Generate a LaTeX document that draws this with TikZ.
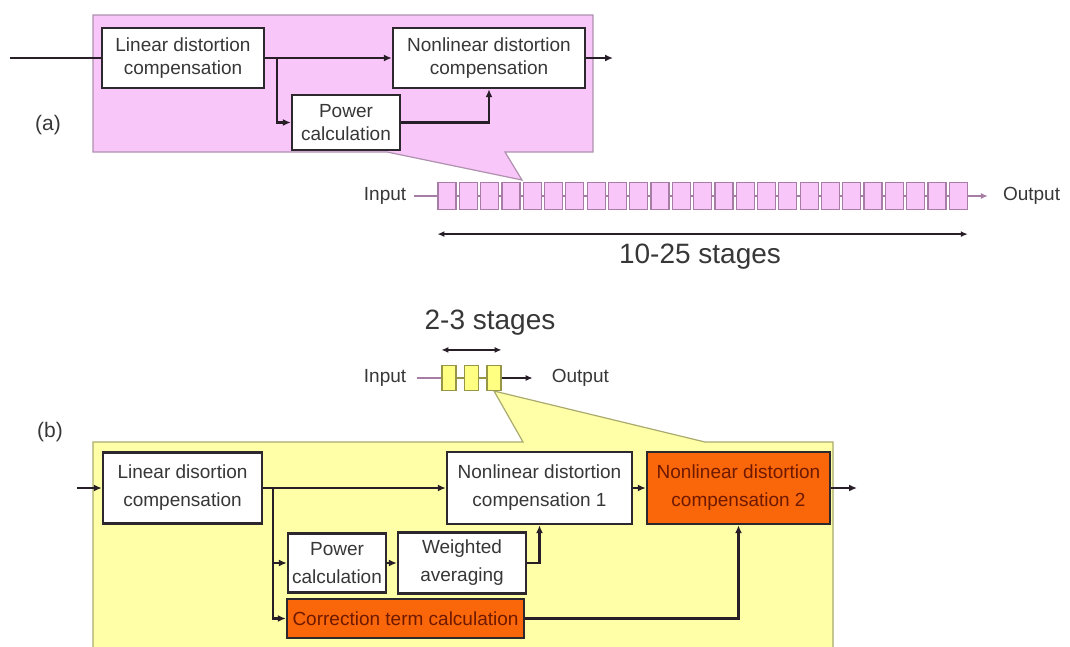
\documentclass[tikz,border=0pt]{standalone}
\usepackage{fontspec}
\setmainfont{Liberation Sans}
\usetikzlibrary{arrows.meta,positioning,calc}
\definecolor{panelpink}{RGB}{248,198,248}
\definecolor{pinkline}{RGB}{175,145,175}
\definecolor{stageline}{RGB}{165,125,165}
\definecolor{panelyellow}{RGB}{255,255,168}
\definecolor{yellowline}{RGB}{170,170,110}
\definecolor{minifill}{RGB}{255,255,130}
\definecolor{miniline}{RGB}{150,150,70}
\definecolor{hotorange}{RGB}{250,102,10}
\definecolor{hottext}{RGB}{110,25,0}
\definecolor{boxline}{RGB}{45,40,45}
\definecolor{wirecol}{RGB}{40,30,40}
\definecolor{boxtext}{RGB}{55,55,55}

\begin{document}
\begin{tikzpicture}[x=1pt,y=-1pt,
      wire/.style={line width=2.2pt, draw=wirecol},
      arr/.style={wire, -{Latex[length=8pt,width=7pt]}},
      block/.style={draw=boxline, line width=2.4pt, fill=white, align=center,
                    inner sep=0pt, text=boxtext, font=\fontsize{19}{22.5}\selectfont},
      blockb/.style={block, font=\fontsize{19}{28}\selectfont},
      hotblock/.style={blockb, fill=hotorange, text=hottext},
      stage/.style={draw=stageline, line width=1.2pt, fill=panelpink,
                    minimum width=18pt, minimum height=27pt, inner sep=0pt},
      ministage/.style={draw=miniline, line width=1.2pt, fill=minifill,
                    minimum width=14pt, minimum height=25pt, inner sep=0pt},
      stagewire/.style={line width=1.2pt, draw=stageline},
      miniwire/.style={line width=1.2pt, draw=miniline},
      lbl/.style={inner sep=0pt, text=boxtext, font=\fontsize{19}{22}\selectfont},
      biglbl/.style={inner sep=0pt, text=boxtext, font=\fontsize{28}{30}\selectfont},
      tag/.style={inner sep=0pt, text=boxtext, font=\fontsize{21}{24}\selectfont},
      dim/.style={line width=1.5pt, draw=wirecol,
                  {Latex[length=7pt,width=6pt]}-{Latex[length=7pt,width=6pt]}}
    ]
    \useasboundingbox (0,0) rectangle (1070,646);

    % (a) callout panel
    \filldraw[fill=panelpink, draw=pinkline, line width=1.2pt]
      (93,15) -- (593,15) -- (593,152) -- (505,152) -- (522,180)
      -- (387,152) -- (93,152) -- cycle;
    \node[tag] (tagA) at (48,125) {(a)};
    \node[block, minimum width=162pt, minimum height=60pt] (linA) at (183,58)
      {Linear distortion\\compensation};
    \node[block, minimum width=192pt, minimum height=60pt] (nlA) at (489,58)
      {Nonlinear distortion\\compensation};
    \node[block, minimum width=108pt, minimum height=55pt] (powA) at (346,122.5)
      {Power\\calculation};
    \coordinate (srcA) at (10,58);
    \coordinate (brA) at (277,58);
    \coordinate (sinkA) at (613,58);
    \draw[wire] (srcA) -- (linA);
    \draw[arr] (linA) -- (nlA);
    \draw[arr] (brA) |- (powA);
    \draw[arr] (powA) -| (nlA);
    \draw[arr] (nlA) -- (sinkA);

    % chain of 25 stages
    \foreach \i in {1,...,25}
      \node[stage] (s\i) at ({447+(\i-1)*21.3},196) {};
    \foreach \i [count=\j from 2] in {1,...,24}
      \draw[stagewire] (s\i) -- (s\j);
    \node[lbl, left=31pt of s1] (inA) {Input};
    \node[lbl, right=35pt of s25] (outA) {Output};
    \draw[stagewire] ([xshift=8pt]inA.east) -- (s1);
    \draw[stagewire, -{Latex[length=7pt,width=6pt]}] (s25) -- ([xshift=-15pt]outA.west);
    \draw[dim] ([yshift=-24pt]s1.south west) -- ([yshift=-24pt]s25.south east);
    \node[biglbl] (nA) at (700,257) {10-25 stages};

    % (b) callout panel
    \filldraw[fill=panelyellow, draw=yellowline, line width=1.2pt]
      (93,652) -- (93,442) -- (523,442) -- (494,391) -- (705,442)
      -- (833,442) -- (833,652);
    \node[tag] (tagB) at (50,432) {(b)};

    % chain of 3 stages
    \foreach \i in {1,2,3}
      \node[ministage] (m\i) at ({449+(\i-1)*22.5},378) {};
    \foreach \i [count=\j from 2] in {1,2}
      \draw[miniwire] (m\i) -- (m\j);
    \node[lbl, left=35pt of m1] (inB) {Input};
    \node[lbl, right=50pt of m3] (outB) {Output};
    \draw[stagewire] ([xshift=11pt]inB.east) -- (m1);
    \draw[wire, line width=1.2pt, -{Latex[length=7pt,width=6pt]}] (m3) -- ([xshift=-19pt]outB.west);
    \draw[dim] ([yshift=15pt]m1.north west) -- ([yshift=15pt]m3.north east);
    \node[biglbl] (nB) at (490,323) {2-3 stages};

    \node[blockb, minimum width=159pt, minimum height=71pt] (linB) at (182.5,488)
      {Linear disortion\\compensation};
    \node[blockb, minimum width=185pt, minimum height=72pt] (nl1B) at (539.5,488)
      {Nonlinear distortion\\compensation 1};
    \node[hotblock, minimum width=183pt, minimum height=72pt] (nl2B) at (738.5,488)
      {Nonlinear distortion\\compensation 2};
    \node[blockb, minimum width=98pt, minimum height=59pt] (powB) at (337,563)
      {Power\\calculation};
    \node[blockb, minimum width=128pt, minimum height=61pt] (wavB) at (462,563)
      {Weighted\\averaging};
    \node[hotblock, minimum width=237pt, minimum height=39pt] (corB) at (405.5,618.5)
      {Correction term calculation};
    \coordinate (srcB) at (77,488);
    \coordinate (brB) at (273,488);
    \coordinate (sinkB) at (857,488);
    \draw[arr] (srcB) -- (linB);
    \draw[arr] (linB) -- (nl1B);
    \draw[arr] (brB) |- (powB);
    \draw[arr] (brB) |- (corB);
    \draw[arr] (powB) -- (wavB);
    \draw[arr] (wavB) -| (nl1B);
    \draw[arr] (nl1B) -- (nl2B);
    \draw[arr] (nl2B) -- (sinkB);
    \draw[arr] (corB) -| (nl2B);
  \end{tikzpicture}
\end{document}
